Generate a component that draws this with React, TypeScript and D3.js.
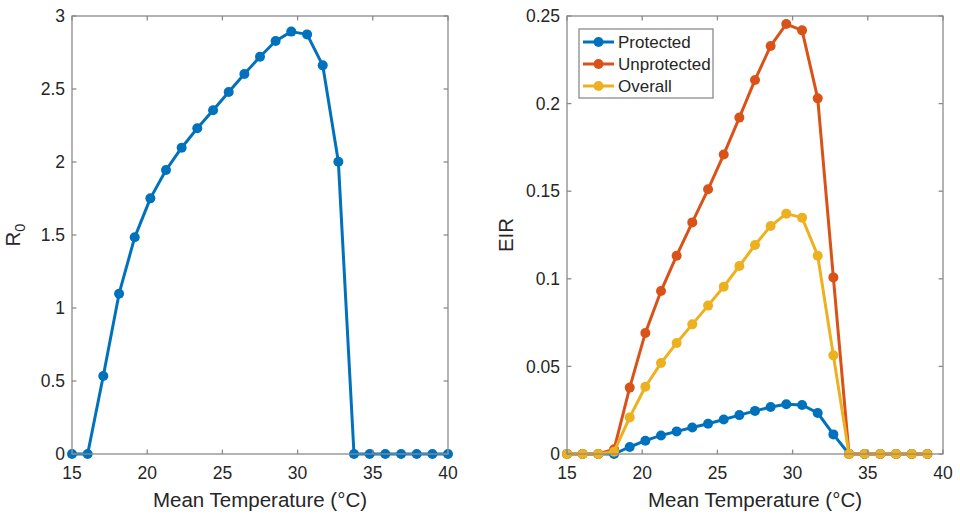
import React from "react";
import * as d3 from "d3";

const temps = [15, 16.04, 17.08, 18.13, 19.17, 20.21, 21.25, 22.29, 23.33, 24.38, 25.42, 26.46, 27.5, 28.54, 29.58, 30.63, 31.67, 32.71, 33.75, 34.79, 35.83, 36.88, 37.92, 38.96, 40];
const r0Values = [0, 0, 0.534, 1.098, 1.484, 1.751, 1.945, 2.098, 2.231, 2.354, 2.479, 2.603, 2.721, 2.829, 2.893, 2.874, 2.662, 2.002, 0, 0, 0, 0, 0, 0, 0];
const eirTemps = temps.slice(0, 24);
const protectedValues = [0, 0, 0, 0, 0.0040, 0.0076, 0.0106, 0.0129, 0.0151, 0.0173, 0.0197, 0.0222, 0.0246, 0.0268, 0.0284, 0.0280, 0.0234, 0.0112, 0, 0, 0, 0, 0, 0];
const unprotectedValues = [0, 0, 0, 0.0027, 0.0379, 0.0691, 0.0930, 0.1132, 0.1322, 0.1511, 0.1709, 0.1920, 0.2135, 0.2329, 0.2454, 0.2418, 0.2030, 0.1008, 0, 0, 0, 0, 0, 0];
const overallValues = [0, 0, 0, 0.0013, 0.0209, 0.0384, 0.0519, 0.0634, 0.0740, 0.0847, 0.0955, 0.1073, 0.1193, 0.1301, 0.1372, 0.1349, 0.1132, 0.0563, 0, 0, 0, 0, 0, 0];
const seriesNames = ["Protected", "Unprotected", "Overall"];
const seriesColors = ["#0072BD", "#D95319", "#EDB120"];
const xTicks = [15, 20, 25, 30, 35, 40];
const r0Ticks = [0, 0.5, 1, 1.5, 2, 2.5, 3];
const eirTicks = [0, 0.05, 0.1, 0.15, 0.2, 0.25];
const xLabel = "Mean Temperature (°C)";

const FONT = "'Liberation Sans', Arial, Helvetica, sans-serif";
const AXIS_COLOR = "#8a8a8a";
const TEXT_COLOR = "#262626";

type Series = { xs: number[]; ys: number[]; color: string };

function Panel({ left, right, top, bottom, yDomain, yTicks, series, yLabel }: {
  left: number; right: number; top: number; bottom: number;
  yDomain: [number, number]; yTicks: number[]; series: Series[]; yLabel: React.ReactNode;
}) {
  const x = d3.scaleLinear().domain([15, 40]).range([left, right]);
  const y = d3.scaleLinear().domain(yDomain).range([bottom, top]);
  const tl = 4.4;
  return (
    <g>
      {series.map((s, si) => {
        const pts = s.xs.map((xv, i) => [xv, s.ys[i]] as [number, number]);
        const line = d3.line<[number, number]>().x(d => x(d[0])).y(d => y(d[1]));
        return (
          <g key={si}>
            <path d={line(pts) || ""} fill="none" stroke={s.color} strokeWidth={3} strokeLinejoin="round" />
            {pts.map((p, i) => (
              <circle key={i} cx={x(p[0])} cy={y(p[1])} r={5} fill={s.color} />
            ))}
          </g>
        );
      })}
      <rect x={left} y={top} width={right - left} height={bottom - top} fill="none" stroke={AXIS_COLOR} strokeWidth={1.3} />
      {xTicks.map(t => (
        <g key={"x" + t}>
          <line x1={x(t)} x2={x(t)} y1={bottom} y2={bottom - tl} stroke={AXIS_COLOR} strokeWidth={1.3} />
          <line x1={x(t)} x2={x(t)} y1={top} y2={top + tl} stroke={AXIS_COLOR} strokeWidth={1.3} />
          <text x={x(t)} y={bottom + 25} textAnchor="middle" fontSize={17.5} fill={TEXT_COLOR} fontFamily={FONT}>{t}</text>
        </g>
      ))}
      {yTicks.map(t => (
        <g key={"y" + t}>
          <line x1={left} x2={left + tl} y1={y(t)} y2={y(t)} stroke={AXIS_COLOR} strokeWidth={1.3} />
          <line x1={right} x2={right - tl} y1={y(t)} y2={y(t)} stroke={AXIS_COLOR} strokeWidth={1.3} />
          <text x={left - 7} y={y(t)} dy="0.35em" textAnchor="end" fontSize={17.5} fill={TEXT_COLOR} fontFamily={FONT}>{String(t)}</text>
        </g>
      ))}
      <text x={(left + right) / 2} y={bottom + 53} textAnchor="middle" fontSize={20.5} fill={TEXT_COLOR} fontFamily={FONT}>{xLabel}</text>
      {yLabel}
    </g>
  );
}

export default function App() {
  const leftPanel = { left: 72, right: 448, top: 16, bottom: 454 };
  const rightPanel = { left: 567, right: 943, top: 16, bottom: 454 };
  const eirSeries = [protectedValues, unprotectedValues, overallValues].map((ys, i) => ({ xs: eirTemps, ys, color: seriesColors[i] }));
  const legend = { x: 579, y: 29, w: 134, h: 69 };
  return (
    <svg width={960} height={514} style={{ position: "absolute", left: 0, top: 0, background: "#fff" }}>
      <rect width={960} height={514} fill="#fff" />
      <Panel {...leftPanel} yDomain={[0, 3]} yTicks={r0Ticks}
        series={[{ xs: temps, ys: r0Values, color: seriesColors[0] }]}
        yLabel={
          <text transform={`translate(20,235) rotate(-90)`} textAnchor="middle" fontSize={20.5} fill={TEXT_COLOR} fontFamily={FONT}>
            R<tspan fontSize={14.5} dy={5}>0</tspan>
          </text>
        } />
      <Panel {...rightPanel} yDomain={[0, 0.25]} yTicks={eirTicks}
        series={eirSeries}
        yLabel={
          <text transform={`translate(513,235) rotate(-90)`} textAnchor="middle" fontSize={20.5} fill={TEXT_COLOR} fontFamily={FONT}>EIR</text>
        } />
      <g>
        <rect x={legend.x} y={legend.y} width={legend.w} height={legend.h} fill="#fff" stroke={AXIS_COLOR} strokeWidth={1.3} />
        {seriesNames.map((name, i) => {
          const cy = legend.y + 13 + i * 22;
          return (
            <g key={name}>
              <line x1={legend.x + 4} x2={legend.x + 35} y1={cy} y2={cy} stroke={seriesColors[i]} strokeWidth={3} />
              <circle cx={legend.x + 19.5} cy={cy} r={5} fill={seriesColors[i]} />
              <text x={legend.x + 39} y={cy} dy="0.35em" fontSize={17} fill={TEXT_COLOR} fontFamily={FONT}>{name}</text>
            </g>
          );
        })}
      </g>
    </svg>
  );
}
